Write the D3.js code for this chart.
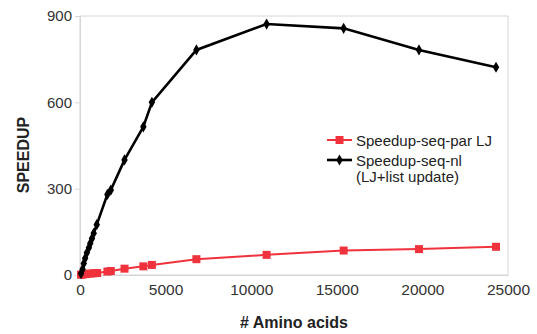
<!DOCTYPE html>
<html>
<head>
<meta charset="utf-8">
<script src="https://cdn.jsdelivr.net/npm/d3@7"></script>
<style>
  html, body { margin: 0; padding: 0; background: #fff; }
  svg { display: block; font-family: "Liberation Sans", Arial, sans-serif; }
</style>
</head>
<body>
<svg id="chart" width="537" height="334"></svg>
<script>
// Number of amino acids for each measured system
const aminoParLJ = [60, 150, 300, 400, 600, 800, 1000, 1600, 1800, 2600, 3700, 4200, 6800, 10900, 15400, 19800, 24300];
const speedupParLJ = [1, 2, 3, 4, 5, 6, 7, 12, 14, 22, 30, 35, 55, 70, 85, 90, 98];

const aminoNl = [60, 150, 220, 300, 400, 520, 600, 700, 800, 980, 1600, 1800, 2600, 3700, 4200, 6800, 10900, 15400, 19800, 24300];
const speedupNl = [5, 20, 40, 58, 77, 95, 110, 127, 145, 175, 280, 295, 400, 515, 600, 782, 872, 857, 782, 722];

const xTicks = [0, 5000, 10000, 15000, 20000, 25000];
const yTicks = [0, 300, 600, 900];

const seriesNames = ["Speedup-seq-par LJ", "Speedup-seq-nl", "(LJ+list update)"];

const svg = d3.select("#chart");
const plot = { left: 80, right: 508, top: 16, bottom: 275 };

const x = d3.scaleLinear().domain([0, 25000]).range([plot.left, plot.right]);
const y = d3.scaleLinear().domain([0, 900]).range([plot.bottom, plot.top]);

// plot frame
svg.append("rect")
  .attr("x", plot.left).attr("y", plot.top)
  .attr("width", plot.right - plot.left).attr("height", plot.bottom - plot.top)
  .attr("fill", "none").attr("stroke", "#d6d6d6").attr("stroke-width", 1);

// y axis
const yAxis = svg.append("g")
  .attr("transform", `translate(${plot.left},0)`)
  .call(d3.axisLeft(y).tickValues(yTicks).tickSize(5).tickPadding(3));
yAxis.select(".domain").attr("stroke", "#d6d6d6");
yAxis.selectAll(".tick line").attr("stroke", "#d6d6d6");
yAxis.selectAll(".tick text").attr("font-size", 15).attr("fill", "#333")
  .attr("font-family", "Liberation Sans, Arial, sans-serif");

// x axis
const xAxis = svg.append("g")
  .attr("transform", `translate(0,${plot.bottom})`)
  .call(d3.axisBottom(x).tickValues(xTicks).tickFormat(d3.format("d")).tickSize(0).tickPadding(9));
xAxis.select(".domain").attr("stroke", "#d6d6d6");
xAxis.selectAll(".tick text").attr("font-size", 15.5).attr("fill", "#333")
  .attr("font-family", "Liberation Sans, Arial, sans-serif");

// axis titles
svg.append("text")
  .attr("x", 294).attr("y", 328)
  .attr("text-anchor", "middle")
  .attr("font-size", 16).attr("font-weight", "bold").attr("fill", "#222")
  .text("# Amino acids");

svg.append("text")
  .attr("transform", "translate(29,155) rotate(-90)")
  .attr("text-anchor", "middle")
  .attr("font-size", 16).attr("font-weight", "bold").attr("fill", "#222")
  .text("SPEEDUP");

const red = "#f0323c";
const line = d3.line().x(d => x(d[0])).y(d => y(d[1]));

const parData = aminoParLJ.map((a, i) => [a, speedupParLJ[i]]);
const nlData = aminoNl.map((a, i) => [a, speedupNl[i]]);

// red series: par LJ
svg.append("path").datum([[0, 0], ...parData])
  .attr("d", line).attr("fill", "none").attr("stroke", red).attr("stroke-width", 2);
svg.append("g").selectAll("rect").data(parData).join("rect")
  .attr("x", d => x(d[0]) - 4).attr("y", d => y(d[1]) - 4)
  .attr("width", 8).attr("height", 8).attr("fill", red);

// black series: neighbour list
svg.append("path").datum([[0, 0], ...nlData])
  .attr("d", line).attr("fill", "none").attr("stroke", "#000").attr("stroke-width", 2.6);
const diamond = d3.symbol().type(d3.symbolDiamond).size(36);
svg.append("g").selectAll("path").data(nlData).join("path")
  .attr("transform", d => `translate(${x(d[0])},${y(d[1])})`)
  .attr("d", diamond).attr("fill", "#000");

// legend
const lg = svg.append("g");
lg.append("line").attr("x1", 327).attr("x2", 352).attr("y1", 140).attr("y2", 140)
  .attr("stroke", red).attr("stroke-width", 2);
lg.append("rect").attr("x", 335.5).attr("y", 136).attr("width", 8).attr("height", 8).attr("fill", red);
lg.append("text").attr("x", 356).attr("y", 145.5).attr("font-size", 15).attr("fill", "#222").text(seriesNames[0]);

lg.append("line").attr("x1", 327).attr("x2", 352).attr("y1", 160).attr("y2", 160)
  .attr("stroke", "#000").attr("stroke-width", 2.6);
lg.append("path").attr("transform", "translate(339.5,160)").attr("d", diamond).attr("fill", "#000");
lg.append("text").attr("x", 356).attr("y", 165.5).attr("font-size", 15).attr("fill", "#222").text(seriesNames[1]);
lg.append("text").attr("x", 356).attr("y", 181.5).attr("font-size", 15).attr("fill", "#222").text(seriesNames[2]);
</script>
</body>
</html>
